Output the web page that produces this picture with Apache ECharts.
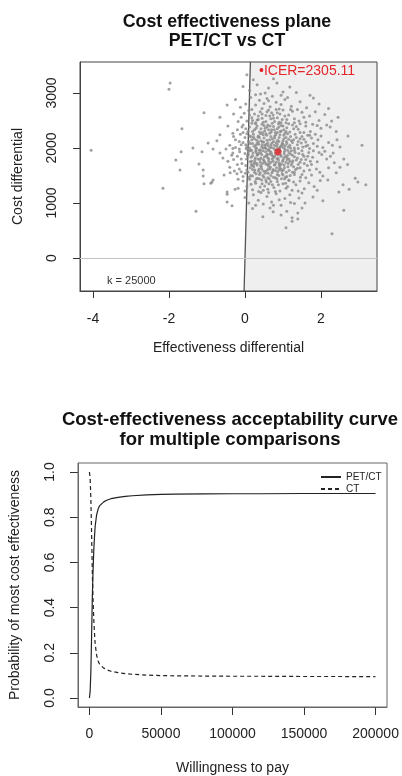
<!DOCTYPE html>
<html>
<head>
<meta charset="utf-8">
<script src="https://cdn.jsdelivr.net/npm/echarts@6/dist/echarts.min.js"></script>
<style>
html, body { margin: 0; padding: 0; background: #fff; }
#chart { width: 402px; height: 776px; }
</style>
</head>
<body>
<div id="chart"></div>
<script>
// simulated (effectiveness diff, cost diff) pairs, read off the plane
var simDelta = [
  [0.05,3330],[0.32,3150],[0.84,3180],[0.53,3000],[1.18,3110],[1.00,3020],[0.22,3240],[0.62,3090],[0.12,3050],[1.71,2960],[0.41,2980],[0.75,3260],[1.35,3010],[-0.05,3120],[0.95,2960],[0.28,2970],[-2.0,3070],[-1.97,3180],
  [1.95,2800],[0.66,2750],[1.45,2840],[-0.47,2780],[0.15,2920],[0.38,2870],[0.58,2900],[0.82,2830],[1.05,2880],[1.22,2760],[0.02,2800],[0.45,2720],[0.9,2710],[1.62,2730],[0.28,2780],[-0.12,2740],[0.72,2940],[1.12,2920],[0.5,2810],[1.38,2700],[0.18,2700],[0.95,2790],[-0.25,2880],[2.2,2720],[0.62,2860],[1.8,2910],
  [2.45,2560],[-1.08,2640],[-0.66,2560],[0.1,2680],[0.25,2620],[0.4,2660],[0.55,2590],[0.7,2640],[0.85,2550],[1.0,2690],[1.15,2600],[1.3,2530],[1.5,2650],[1.7,2580],[1.95,2500],[-0.1,2560],[-0.3,2620],[0.05,2490],[0.32,2510],[0.48,2470],[0.62,2690],[0.78,2480],[0.92,2620],[1.08,2460],[1.25,2670],[1.42,2490],[1.6,2470],[2.1,2610],[0.18,2550],[0.68,2530],[0.35,2580],[0.98,2520],[1.2,2700],[-0.18,2480],[0.58,2660],[0.82,2700],[1.05,2580],[0.28,2460],[0.74,2600],[1.55,2560],[0.12,2600],[0.45,2540],[0.9,2470],[1.85,2660],[-0.02,2630],[2.28,2490],
  [2.71,2220],[2.24,2380],[-1.66,2350],[-0.66,2240],[-0.32,2270],[-0.45,2400],[-0.2,2330],[-0.05,2420],[0.05,2260],[0.12,2380],[0.2,2300],[0.28,2440],[0.35,2220],[0.42,2350],[0.5,2410],[0.55,2260],[0.62,2330],[0.68,2210],[0.75,2390],[0.8,2280],[0.88,2440],[0.95,2310],[1.02,2230],[1.1,2370],[1.18,2290],[1.25,2420],[1.32,2250],[1.4,2340],[1.5,2210],[1.6,2400],[1.72,2300],[1.85,2250],[2.0,2360],[2.15,2420],[0.02,2350],[0.15,2210],[0.25,2330],[0.38,2290],[0.45,2430],[0.58,2380],[0.65,2270],[0.72,2450],[0.85,2350],[0.92,2240],[1.0,2400],[1.08,2300],[1.2,2210],[1.28,2350],[1.45,2440],[1.55,2280],[1.9,2410],[-0.12,2250],[0.32,2400],[0.52,2310],[0.78,2220],[1.15,2440],[0.18,2450],[0.6,2420],[0.95,2410],[1.35,2390],[1.65,2230],[0.08,2300],[0.48,2240],[0.85,2280],[1.12,2260],[-0.3,2210],[0.7,2330],[2.4,2300],[1.78,2430],
  [-4.05,1960],[-0.97,2090],[-0.74,2130],[-0.84,1980],[-1.37,2000],[3.08,2050],[2.42,2150],[-0.4,2050],[-0.25,2150],[-0.15,1980],[-0.05,2100],[0.0,2190],[0.05,2020],[0.1,2120],[0.15,1960],[0.2,2080],[0.25,2170],[0.3,2000],[0.35,2110],[0.4,1970],[0.45,2060],[0.5,2180],[0.55,1990],[0.6,2090],[0.65,2150],[0.7,2010],[0.75,2120],[0.8,1960],[0.85,2070],[0.9,2190],[0.95,2030],[1.0,2130],[1.05,1980],[1.1,2080],[1.15,2160],[1.2,2000],[1.25,2100],[1.3,1960],[1.38,2060],[1.45,2170],[1.52,2020],[1.6,2110],[1.7,1990],[1.8,2080],[1.92,2150],[2.05,2010],[2.2,2100],[0.02,2060],[0.08,1960],[0.18,2150],[0.28,2050],[0.38,2190],[0.48,2000],[0.58,2140],[0.68,2060],[0.78,2180],[0.88,1990],[0.98,2090],[1.08,2190],[1.18,2050],[1.28,2150],[1.4,1990],[1.55,2160],[1.65,2050],[-0.32,1990],[-0.1,2060],[0.12,2000],[0.22,2200],[0.32,2080],[0.42,2130],[0.52,2050],[0.62,1970],[0.72,2170],[0.82,2100],[0.92,2020],[1.02,2170],[1.12,1960],[1.22,2130],[1.35,2190],[1.48,2090],[1.75,2180],[2.5,2020],[0.46,2110],[0.66,2010],[0.86,2140],[1.06,2040],
  [-1.68,1930],[-1.13,1930],[-0.66,1910],[-0.58,1820],[-0.32,1910],[-1.82,1780],[-1.21,1710],[2.32,1910],[-0.45,1760],[-0.2,1850],[-0.08,1720],[0.0,1900],[0.04,1800],[0.1,1940],[0.14,1750],[0.2,1860],[0.24,1710],[0.3,1920],[0.34,1800],[0.4,1740],[0.44,1880],[0.5,1770],[0.54,1930],[0.6,1820],[0.64,1710],[0.7,1880],[0.74,1760],[0.8,1910],[0.84,1800],[0.9,1730],[0.94,1870],[1.0,1780],[1.04,1940],[1.1,1830],[1.14,1720],[1.2,1890],[1.26,1770],[1.32,1920],[1.38,1820],[1.45,1740],[1.52,1880],[1.6,1790],[1.68,1920],[1.78,1830],[1.9,1750],[2.02,1880],[2.15,1800],[2.35,1730],[0.06,1860],[0.16,1830],[0.26,1780],[0.36,1900],[0.46,1720],[0.56,1850],[0.66,1940],[0.76,1830],[0.86,1880],[0.96,1710],[1.06,1850],[1.16,1800],[1.24,1730],[1.42,1900],[1.56,1720],[1.72,1760],[-0.14,1930],[0.32,1870],[0.52,1740],[0.72,1800],[0.92,1940],[1.12,1870],[1.3,1840],[1.48,1790],[0.18,1760],[0.42,1820],[0.62,1760],[0.82,1740],[1.02,1820],[1.22,1950],[-0.3,1790],[0.28,1950],[0.58,1890],[0.88,1780],[1.18,1760],[1.65,1850],[1.95,1920],[2.6,1800],
  [-1.71,1600],[-1.1,1600],[-0.39,1550],[-0.21,1530],[-0.55,1510],[-1.1,1490],[1.97,1560],[-0.4,1650],[-0.15,1620],[-0.05,1480],[0.02,1680],[0.08,1560],[0.14,1640],[0.2,1490],[0.26,1600],[0.32,1690],[0.38,1520],[0.44,1620],[0.5,1470],[0.56,1580],[0.62,1670],[0.68,1500],[0.74,1610],[0.8,1460],[0.86,1570],[0.92,1680],[0.98,1530],[1.04,1640],[1.1,1480],[1.16,1590],[1.22,1690],[1.3,1520],[1.38,1630],[1.46,1470],[1.55,1580],[1.64,1680],[1.75,1510],[1.88,1620],[2.05,1490],[2.2,1640],[0.05,1600],[0.17,1700],[0.29,1530],[0.41,1680],[0.53,1540],[0.65,1620],[0.77,1690],[0.89,1500],[1.01,1600],[1.13,1660],[1.25,1560],[1.4,1700],[1.5,1520],[1.7,1600],[0.11,1470],[0.35,1580],[0.59,1700],[0.83,1640],[1.07,1470],[1.33,1610],[-0.28,1580],[0.23,1660],[0.47,1500],[0.71,1550],[0.95,1620],[1.19,1500],[1.6,1460],[2.4,1550],[0.01,1540],[0.6,1460],[0.9,1600],[1.28,1660],
  [-1.08,1350],[-0.87,1380],[-0.84,1420],[-0.9,1360],[-0.26,1250],[-2.16,1270],[-0.47,1200],[-0.18,1270],[2.18,1420],[2.58,1330],[2.74,1250],[2.47,1200],[3.18,1330],[2.97,1380],[-0.05,1400],[0.05,1300],[0.12,1430],[0.2,1240],[0.28,1360],[0.36,1210],[0.44,1420],[0.52,1310],[0.6,1250],[0.68,1390],[0.76,1280],[0.84,1440],[0.92,1220],[1.0,1350],[1.08,1270],[1.16,1410],[1.24,1230],[1.34,1330],[1.45,1400],[1.56,1260],[1.68,1370],[1.82,1300],[1.98,1410],[0.16,1340],[0.4,1290],[0.64,1440],[0.88,1330],[1.12,1300],[1.4,1220],[0.0,1220],[0.3,1440],[0.56,1380],[0.8,1210],[1.04,1440],[1.28,1380],[1.9,1230],[0.48,1230],[0.72,1330],
  [-0.47,1160],[-0.47,1020],[1.79,1110],[1.58,1000],[0.0,1100],[0.1,1000],[0.22,1150],[0.35,1050],[0.48,980],[0.58,1120],[0.7,1020],[0.82,1170],[0.95,960],[1.05,1080],[1.18,1150],[1.3,990],[1.42,1090],[0.28,960],[0.62,1190],[0.9,1060],[1.2,1010],[1.5,1180],[2.05,1040],[0.42,1190],[0.75,960],
  [-1.29,850],[-0.34,950],[0.47,750],[0.74,840],[1.08,550],[1.24,730],[1.39,710],[2.6,870],[2.29,440],[0.66,910],[1.1,850],[1.24,670],[1.39,820],[1.5,910],[0.2,900],[0.95,780],
  [0.21,1910],[0.33,1880],[0.47,1950],[0.58,1870],[0.69,1920],[0.79,1860],[0.91,1990],[1.03,1900],[0.27,1820],[0.39,1790],[0.51,1840],[0.63,1800],[0.73,1850],[0.87,1820],[0.99,1760],[1.11,1790],
  [0.24,2030],[0.36,2070],[0.49,2110],[0.61,2040],[0.71,2090],[0.83,2030],[0.97,2060],[1.09,2120],[0.14,2080],[0.31,2140],[0.44,2020],[0.56,2070],[0.77,2050],[0.89,2120],[1.01,2010],[1.14,2020],
  [0.19,1680],[0.31,1720],[0.43,1660],[0.55,1710],[0.67,1650],[0.79,1700],[0.91,1640],[1.03,1690],[0.25,1560],[0.37,1620],[0.49,1580],[0.61,1540],[0.73,1580],[0.85,1520],[0.97,1580],[1.09,1560],
  [0.22,2250],[0.34,2200],[0.46,2280],[0.57,2230],[0.69,2290],[0.81,2240],[0.93,2300],[1.05,2270],[0.12,2220],[0.29,2360],[0.41,2260],[0.53,2360],[0.66,2400],[0.77,2330],[0.89,2380],[1.02,2330],
  [0.17,1960],[0.29,1990],[0.41,1920],[0.53,2010],[0.65,1890],[0.76,1990],[0.88,1930],[1.0,2070],[0.09,1880],[0.37,1960],[0.61,1960],[0.84,1970],[1.16,1920],[1.25,1870],[0.03,1990],[0.95,1850],
  [0.15,1500],[0.33,1450],[0.55,1420],[0.75,1470],[0.96,1440],[1.15,1420],[0.27,1390],[0.63,1350],[0.85,1390],[1.07,1360],[0.45,1350],[0.38,1440],
  [0.35,2520],[0.55,2480],[0.75,2540],[0.95,2460],[0.2,2500],[0.65,2580],[1.1,2520],[0.45,2620],[0.85,2640],[1.3,2460],
  [-0.15,2120],[-0.1,1800],[-0.2,1700],[-0.05,2280],[-0.1,1570],[-0.25,2010],[-0.35,1870],[-0.08,2380],[-0.18,1430],[-0.5,1980],
  [1.3,2000],[1.4,2120],[1.5,1950],[1.35,1780],[1.45,2280],[1.55,1850],[1.6,2030],[1.7,2230],[1.3,1560],[1.45,1640],[1.8,1950],[1.9,2030],[2.1,1940],[2.0,2220],[1.75,1700],[2.25,1850],[2.3,2050],[2.5,1650],[2.7,1700],[2.9,1450],
  [0.26,1740],[0.48,1790],[0.68,1740],[0.9,1690],[1.08,1740],[0.6,1610],[0.8,1590],[0.4,1550],[1.0,1510],[0.2,1610]
];
var icerPoint = [0.87, 1930];
var icerValue = 2305.11;
var wtpK = 25000;
var planeXTicks = [-4, -2, 0, 2];
var planeYTicks = [0, 1000, 2000, 3000];

// acceptability curve
var wtp = [0, 500, 1000, 1500, 2000, 2500, 3000, 3500, 4000, 5000, 6000, 7000, 8000, 10000, 12000, 15000, 20000, 25000, 30000, 40000, 50000, 60000, 80000, 100000, 120000, 150000, 175000, 200000];
var probPetCt = [0.0, 0.03, 0.12, 0.27, 0.44, 0.56, 0.65, 0.71, 0.76, 0.81, 0.835, 0.85, 0.858, 0.868, 0.875, 0.882, 0.888, 0.892, 0.895, 0.899, 0.901, 0.902, 0.903, 0.904, 0.904, 0.905, 0.905, 0.905];
var probCt = [1.0, 0.97, 0.88, 0.73, 0.56, 0.44, 0.35, 0.29, 0.24, 0.19, 0.165, 0.15, 0.142, 0.132, 0.125, 0.118, 0.112, 0.108, 0.105, 0.101, 0.099, 0.098, 0.097, 0.096, 0.096, 0.095, 0.095, 0.094];
var ceacXTicks = [0, 50000, 100000, 150000, 200000];
var ceacYTicks = [0, 0.2, 0.4, 0.6, 0.8, 1.0];

var chart = echarts.init(document.getElementById('chart'), null, { renderer: 'canvas' });

var pX = [-4.342, 3.474];
var pY = [-600, 3564];
var cX = [-8000, 208000];
var cY = [-0.04, 1.04];

function pair(xs, ys) {
    return xs.map(function (x, i) { return [x, ys[i]]; });
}

var axisText = { color: '#222', fontSize: 14 };
var tickStyle = { color: '#333', width: 1 };
function edge(color) {
    return { show: true, onZero: false, lineStyle: { color: color, width: 1 } };
}

var option = {
    animation: false,
    textStyle: { fontFamily: 'Liberation Sans, Arial, sans-serif' },
    title: [{
        text: 'Cost effectiveness plane\nPET/CT vs CT',
        left: 222, top: 8, textAlign: 'center',
        textStyle: { fontSize: 17.8, fontWeight: 'bold', color: '#111', lineHeight: 18.5 }
    }, {
        text: 'Cost-effectiveness acceptability curve\nfor multiple comparisons',
        left: 225, top: 405, textAlign: 'center',
        textStyle: { fontSize: 18.5, fontWeight: 'bold', color: '#111', lineHeight: 20 }
    }],
    legend: {
        data: ['PET/CT', 'CT'],
        orient: 'vertical',
        left: 315, top: 467,
        itemWidth: 20, itemHeight: 8, itemGap: 2,
        itemStyle: { opacity: 0, color: 'transparent', borderWidth: 0 },
        textStyle: { fontSize: 10, color: '#222' },
        selectedMode: false
    },
    grid: [
        { left: 80, top: 62, width: 297, height: 229, show: true, borderColor: '#444', borderWidth: 1, backgroundColor: 'transparent', z: 5 },
        { left: 78, top: 463, width: 309, height: 244, show: true, borderColor: '#666', borderWidth: 1, backgroundColor: 'transparent', z: 5 }
    ],
    xAxis: [{
        gridIndex: 0, type: 'value', min: pX[0], max: pX[1],
        name: 'Effectiveness differential', nameLocation: 'middle', nameGap: 50,
        nameTextStyle: axisText,
        axisLine: edge('#444'),
        axisTick: { show: true, inside: false, length: 7, lineStyle: tickStyle, customValues: planeXTicks },
        axisLabel: { customValues: planeXTicks, margin: 21, fontSize: 14, color: '#222' },
        splitLine: { show: false }
    }, {
        gridIndex: 1, type: 'value', min: cX[0], max: cX[1],
        name: 'Willingness to pay', nameLocation: 'middle', nameGap: 54,
        nameTextStyle: axisText,
        axisLine: edge('#666'),
        axisTick: { show: true, inside: false, length: 8, lineStyle: tickStyle, customValues: ceacXTicks },
        axisLabel: { customValues: ceacXTicks, margin: 20, fontSize: 14, color: '#222', formatter: function (v) { return String(v); } },
        splitLine: { show: false }
    }],
    yAxis: [{
        gridIndex: 0, type: 'value', min: pY[0], max: pY[1],
        name: 'Cost differential', nameLocation: 'middle', nameGap: 55,
        nameTextStyle: axisText,
        axisLine: edge('#444'),
        axisTick: { show: true, inside: false, length: 7, lineStyle: tickStyle, customValues: planeYTicks },
        axisLabel: { customValues: planeYTicks, rotate: 90, margin: 21, fontSize: 14, color: '#222', formatter: function (v) { return String(v); } },
        splitLine: { show: false }
    }, {
        gridIndex: 1, type: 'value', min: cY[0], max: cY[1],
        name: 'Probability of most cost effectiveness', nameLocation: 'middle', nameGap: 56,
        nameTextStyle: axisText,
        axisLine: edge('#666'),
        axisTick: { show: true, inside: false, length: 8, lineStyle: tickStyle, customValues: ceacYTicks },
        axisLabel: { customValues: ceacYTicks, rotate: 90, margin: 21, fontSize: 14, color: '#222', formatter: function (v) { return v.toFixed(1); } },
        splitLine: { show: false }
    }],
    graphic: [{
        type: 'text', left: 259, top: 64, z: 100,
        style: { text: '\u2022ICER=' + icerValue, fill: '#e3262b', font: '14px "Liberation Sans", Arial, sans-serif' }
    }, {
        type: 'text', left: 107, top: 275, z: 100,
        style: { text: 'k = ' + wtpK, fill: '#333', font: '11px "Liberation Sans", Arial, sans-serif' }
    }],
    series: [{
        // sustainability region right of the k line
        type: 'custom', xAxisIndex: 0, yAxisIndex: 0, silent: true, z: 1,
        data: [[wtpK]],
        renderItem: function (params, api) {
            var k = api.value(0);
            var pts = [[pY[0] / k, pY[0]], [pX[1], pY[0]], [pX[1], pY[1]], [pY[1] / k, pY[1]]].map(function (p) {
                return api.coord(p);
            });
            return { type: 'polygon', shape: { points: pts }, style: { fill: '#efefef' } };
        }
    }, {
        type: 'line', xAxisIndex: 0, yAxisIndex: 0, silent: true, z: 2,
        symbol: 'none',
        data: [[pY[0] / wtpK, pY[0]], [pY[1] / wtpK, pY[1]]],
        lineStyle: { color: '#555', width: 1.3 },
        markLine: {
            silent: true, symbol: 'none', label: { show: false },
            lineStyle: { color: '#c4c4c4', width: 1, type: 'solid' },
            data: [{ yAxis: 0 }]
        }
    }, {
        type: 'scatter', xAxisIndex: 0, yAxisIndex: 0, z: 3,
        symbolSize: 3,
        itemStyle: { color: '#8a8a8a' },
        data: simDelta
    }, {
        type: 'scatter', xAxisIndex: 0, yAxisIndex: 0, z: 4,
        symbolSize: 7,
        itemStyle: { color: '#e3262b' },
        data: [icerPoint]
    }, {
        name: 'PET/CT', type: 'line', xAxisIndex: 1, yAxisIndex: 1,
        symbol: 'none', smooth: false,
        lineStyle: { color: '#222', width: 1.2, type: 'solid' },
        itemStyle: { color: '#222' },
        data: pair(wtp, probPetCt)
    }, {
        name: 'CT', type: 'line', xAxisIndex: 1, yAxisIndex: 1,
        symbol: 'none', smooth: false,
        lineStyle: { color: '#222', width: 1.2, type: [4, 3] },
        itemStyle: { color: '#222' },
        data: pair(wtp, probCt)
    }]
};

chart.setOption(option);

window.onresize = function () {
    chart.resize();
};
</script>
</body>
</html>
